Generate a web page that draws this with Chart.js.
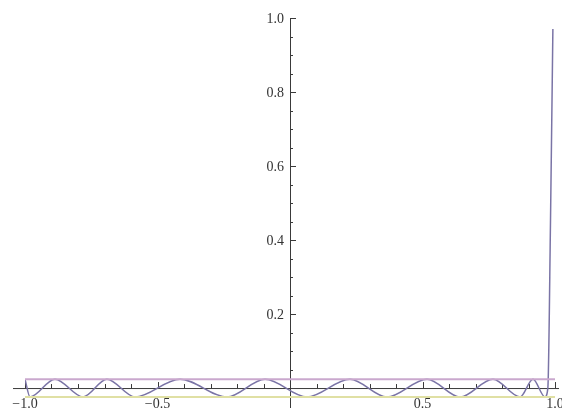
<!DOCTYPE html>
<html>
<head>
<meta charset="utf-8">
<script src="https://cdn.jsdelivr.net/npm/chart.js@4/dist/chart.umd.min.js"></script>
<style>
  body { margin: 0; background: #fff; }
  #wrap { width: 562px; height: 408px; }
</style>
</head>
<body>
<div id="wrap"><canvas id="plot" width="562" height="408"></canvas></div>
<script>
// curve (extrema of the ripple, then the jump at x = 1)
const curveX = [-1.0, -0.981, -0.887, -0.781, -0.691, -0.585, -0.415, -0.238, -0.094, 0.064,
                0.226, 0.366, 0.517, 0.642, 0.766, 0.868, 0.917, 0.962, 0.973, 0.983, 0.992];
const curveY = [0.024, -0.024, 0.024, -0.024, 0.024, -0.024, 0.024, -0.024, 0.024, -0.024,
                0.024, -0.024, 0.024, -0.024, 0.024, -0.024, 0.024, -0.024, 0.0, 0.45, 0.97];

// the two horizontal bounds
const boundX = [-1.0, 1.0];
const upperY = [0.024, 0.024];
const lowerY = [-0.024, -0.024];

// ticks
const xMajor = [-1.0, -0.5, 0.5, 1.0];
const xMajorLabels = ['\u22121.0', '\u22120.5', '0.5', '1.0'];
const yMajor = [0.2, 0.4, 0.6, 0.8, 1.0];
const yMajorLabels = ['0.2', '0.4', '0.6', '0.8', '1.0'];

function pts(xs, ys) {
  return xs.map((x, i) => ({ x: x, y: ys[i] }));
}

// Mathematica-style axes crossing at the origin, ticks pointing inward
const axesPlugin = {
  id: 'axes',
  beforeDatasetsDraw(chart) {
    const c = chart.ctx;
    const xs = chart.scales.x;
    const ys = chart.scales.y;
    const x0 = xs.getPixelForValue(0);
    const y0 = ys.getPixelForValue(0);

    c.save();
    c.strokeStyle = '#3a3a3a';
    c.lineWidth = 1;
    c.beginPath();
    c.moveTo(13, y0 + 0.5);
    c.lineTo(559, y0 + 0.5);
    c.moveTo(x0 + 0.5, ys.getPixelForValue(1.0));
    c.lineTo(x0 + 0.5, 408);
    c.stroke();

    // x ticks every 0.1, longer at labels
    c.beginPath();
    for (let k = -10; k <= 10; k++) {
      if (k === 0) continue;
      const px = Math.round(xs.getPixelForValue(k / 10)) + 0.5;
      const len = (k % 5 === 0) ? 6 : 4;
      c.moveTo(px, y0);
      c.lineTo(px, y0 - len);
    }
    // y ticks every 0.05, longer at labels
    for (let k = 1; k <= 20; k++) {
      const py = Math.round(ys.getPixelForValue(k / 20)) + 0.5;
      const len = (k % 4 === 0) ? 6 : 3;
      c.moveTo(x0, py);
      c.lineTo(x0 + len, py);
    }
    c.stroke();

    c.fillStyle = '#333';
    c.font = '14px "Liberation Serif", "DejaVu Serif", serif';
    c.textAlign = 'center';
    c.textBaseline = 'top';
    xMajor.forEach((v, i) => {
      c.fillText(xMajorLabels[i], xs.getPixelForValue(v), y0 + 9);
    });
    c.textAlign = 'right';
    c.textBaseline = 'middle';
    yMajor.forEach((v, i) => {
      c.fillText(yMajorLabels[i], x0 - 6, ys.getPixelForValue(v) + 1);
    });
    c.restore();
  }
};

const ctx = document.getElementById('plot').getContext('2d');
new Chart(ctx, {
  type: 'line',
  data: {
    datasets: [
      {
        data: pts(boundX, upperY),
        borderColor: 'rgb(202,168,206)',
        borderWidth: 2,
        pointRadius: 0,
        fill: false
      },
      {
        data: pts(boundX, lowerY),
        borderColor: 'rgb(224,224,164)',
        borderWidth: 2,
        pointRadius: 0,
        fill: false
      },
      {
        data: pts(curveX, curveY),
        borderColor: 'rgb(122,116,166)',
        borderWidth: 1.5,
        pointRadius: 0,
        cubicInterpolationMode: 'monotone',
        fill: false
      }
    ]
  },
  options: {
    responsive: false,
    animation: false,
    devicePixelRatio: 1,
    layout: { padding: { left: 25, right: 7, top: 10.6, bottom: 7 } },
    plugins: { legend: { display: false }, tooltip: { enabled: false } },
    scales: {
      x: { type: 'linear', min: -1, max: 1, display: false },
      y: { type: 'linear', min: -0.035, max: 1.02, display: false }
    }
  },
  plugins: [axesPlugin]
});
</script>
</body>
</html>
